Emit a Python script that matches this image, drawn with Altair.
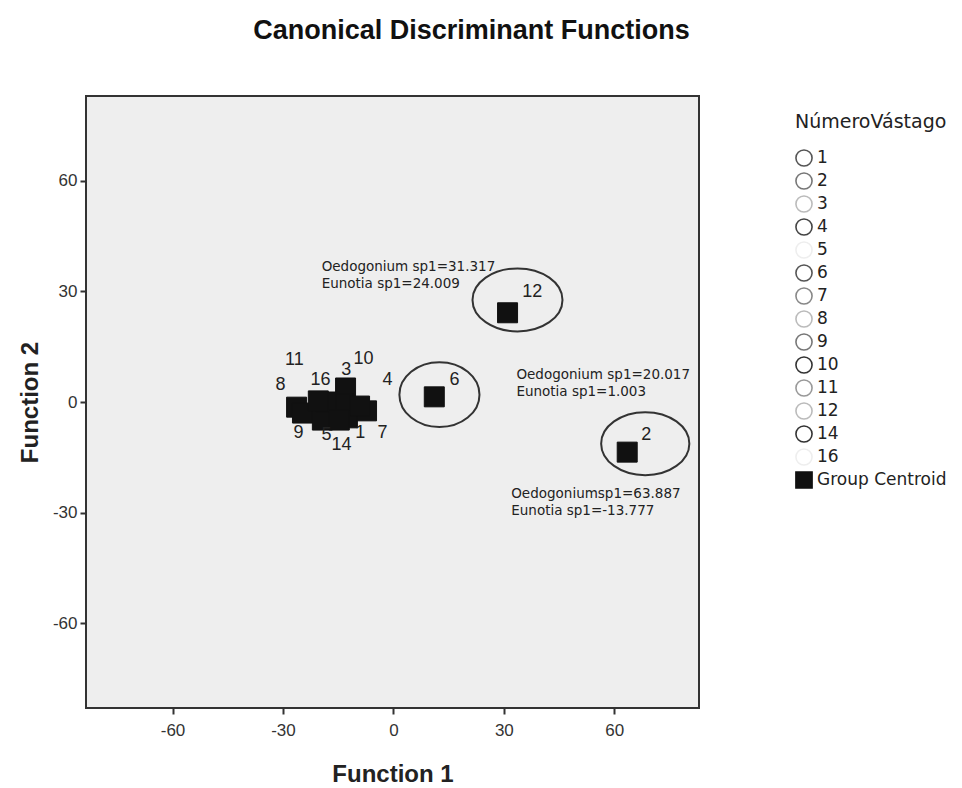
import altair as alt
import pandas as pd

# ---- data ----
groups = ["1", "2", "3", "4", "5", "6", "7", "8", "9", "10", "11", "12", "14", "16"]
centroid_x = [-12.5, 63.5, -13.0, -13.6, -19.3, 11.1, -7.3, -26.3, -24.7, -9.2, -18.2, 31.0, -14.7, -20.4]
centroid_y = [-4.3, -13.6, 3.8, -0.5, -4.9, 1.4, -2.4, -1.4, -3.0, -1.1, 0.0, 24.2, -4.9, 0.3]
label_x = [-9.0, 68.7, -12.8, -1.6, -18.2, 16.6, -3.0, -30.7, -25.8, -8.1, -26.9, 37.7, -14.1, -19.8]
label_y = [-8.4, -9.0, 8.7, 6.0, -9.0, 6.0, -8.4, 4.6, -8.4, 11.7, 11.4, 29.9, -11.7, 6.0]

ellipse_groups = ["12", "6", "2"]
ellipse_x = [33.7, 12.5, 68.4]
ellipse_y = [27.7, 2.0, -11.3]

ann_text = ["Oedogonium sp1=31.317", "Eunotia sp1=24.009",
            "Oedogonium sp1=20.017", "Eunotia sp1=1.003",
            "Oedogoniumsp1=63.887", "Eunotia sp1=-13.777"]
ann_x = [-19.5, -19.5, 33.4, 33.4, 32.0, 32.0]
ann_y = [36.5, 32.0, 7.3, 2.7, -25.0, -29.6]

legend_cats = groups + ["Group Centroid"]
tick_values = [-60, -30, 0, 30, 60]

# ---- styles ----
stroke_range = ["#555", "#777", "#bbb", "#444", "#eee", "#555", "#888", "#bbb",
                "#777", "#333", "#999", "#bbb", "#333", "#eee", "#111"]
fill_range = ["white"] * 14 + ["#111"]
shape_range = ["circle"] * 14 + ["square"]


def ellipse_path(rx, ry):
    k = 0.5523
    return (f"M {-rx} 0 C {-rx} {-k*ry} {-k*rx} {-ry} 0 {-ry} "
            f"C {k*rx} {-ry} {rx} {-k*ry} {rx} 0 "
            f"C {rx} {k*ry} {k*rx} {ry} 0 {ry} "
            f"C {-k*rx} {ry} {-rx} {k*ry} {-rx} 0 Z")


ellipse_shapes = [ellipse_path(1.0, 0.70), ellipse_path(0.89, 0.72), ellipse_path(0.98, 0.70)]

xs = alt.Scale(domain=[-83.5, 83], nice=False, zero=False)
ys = alt.Scale(domain=[-83, 83], nice=False, zero=False)

axis_common = dict(values=tick_values, grid=False, domain=False, ticks=True, tickSize=6,
                   tickWidth=2, tickColor="#333", labelFont="Liberation Sans",
                   labelFontSize=17, labelColor="#333", titleFont="Liberation Sans",
                   titleFontSize=24, titleFontWeight="bold", titleColor="#222",
                   labelExpr="'' + datum.value")
x_axis = alt.Axis(title="Function 1", titlePadding=24, labelPadding=8, **axis_common)
y_axis = alt.Axis(title="Function 2", titlePadding=10, labelPadding=3, **axis_common)

cdf = pd.DataFrame({"x": centroid_x, "y": centroid_y, "g": groups,
                    "cat": ["Group Centroid"] * len(groups)})
ldf = pd.DataFrame({"x": label_x, "y": label_y, "g": groups})
adf = pd.DataFrame({"x": ann_x, "y": ann_y, "t": ann_text})

leg = alt.Legend(orient="none", legendX=709, legendY=17, padding=0,
                 titleFont="DejaVu Sans", titleFontSize=19, titleFontWeight="normal",
                 titleColor="#222", titlePadding=17,
                 labelFont="DejaVu Sans", labelFontSize=17, labelColor="#222",
                 symbolSize=260, symbolStrokeWidth=1.6, rowPadding=-1,
                 labelOffset=4, symbolOpacity=1, offset=0)

centroids = alt.Chart(cdf).mark_point(filled=True, size=400, strokeWidth=1, opacity=1).encode(
    x=alt.X("x:Q", scale=xs, axis=x_axis),
    y=alt.Y("y:Q", scale=ys, axis=y_axis),
    shape=alt.Shape("cat:N", scale=alt.Scale(domain=legend_cats, range=shape_range),
                    legend=leg, title="NúmeroVástago"),
    fill=alt.Fill("cat:N", scale=alt.Scale(domain=legend_cats, range=fill_range),
                  legend=leg, title="NúmeroVástago"),
    stroke=alt.Stroke("cat:N", scale=alt.Scale(domain=legend_cats, range=stroke_range),
                      legend=leg, title="NúmeroVástago"),
)

labels = alt.Chart(ldf).mark_text(font="Liberation Sans", fontSize=18, color="#222").encode(
    x=alt.X("x:Q", scale=xs), y=alt.Y("y:Q", scale=ys), text="g:N")

ann = alt.Chart(adf).mark_text(font="DejaVu Sans", fontSize=13.5, color="#222",
                               align="left", baseline="middle").encode(
    x=alt.X("x:Q", scale=xs), y=alt.Y("y:Q", scale=ys), text="t:N")

ellipse_layers = []
for gname, ex, ey, shp in zip(ellipse_groups, ellipse_x, ellipse_y, ellipse_shapes):
    edf = pd.DataFrame({"x": [ex], "y": [ey], "g": [gname]})
    ellipse_layers.append(
        alt.Chart(edf).mark_point(shape=shp, size=8100, filled=False, stroke="#333",
                                  strokeWidth=2, opacity=1).encode(
            x=alt.X("x:Q", scale=xs), y=alt.Y("y:Q", scale=ys)))

chart = alt.layer(*ellipse_layers, centroids, labels, ann).properties(
    width=613, height=612,
    padding={"left": 10, "top": 9, "right": 0, "bottom": 0},
    title=alt.Title("Canonical Discriminant Functions", font="Liberation Sans", fontSize=27,
                    fontWeight="bold", color="#111", anchor="middle", frame="group",
                    dx=79, offset=51),
).configure_view(stroke="#333", strokeWidth=2, fill="#eeeeee")

chart.save("out.html", embed_options={"renderer": "svg", "actions": False})
